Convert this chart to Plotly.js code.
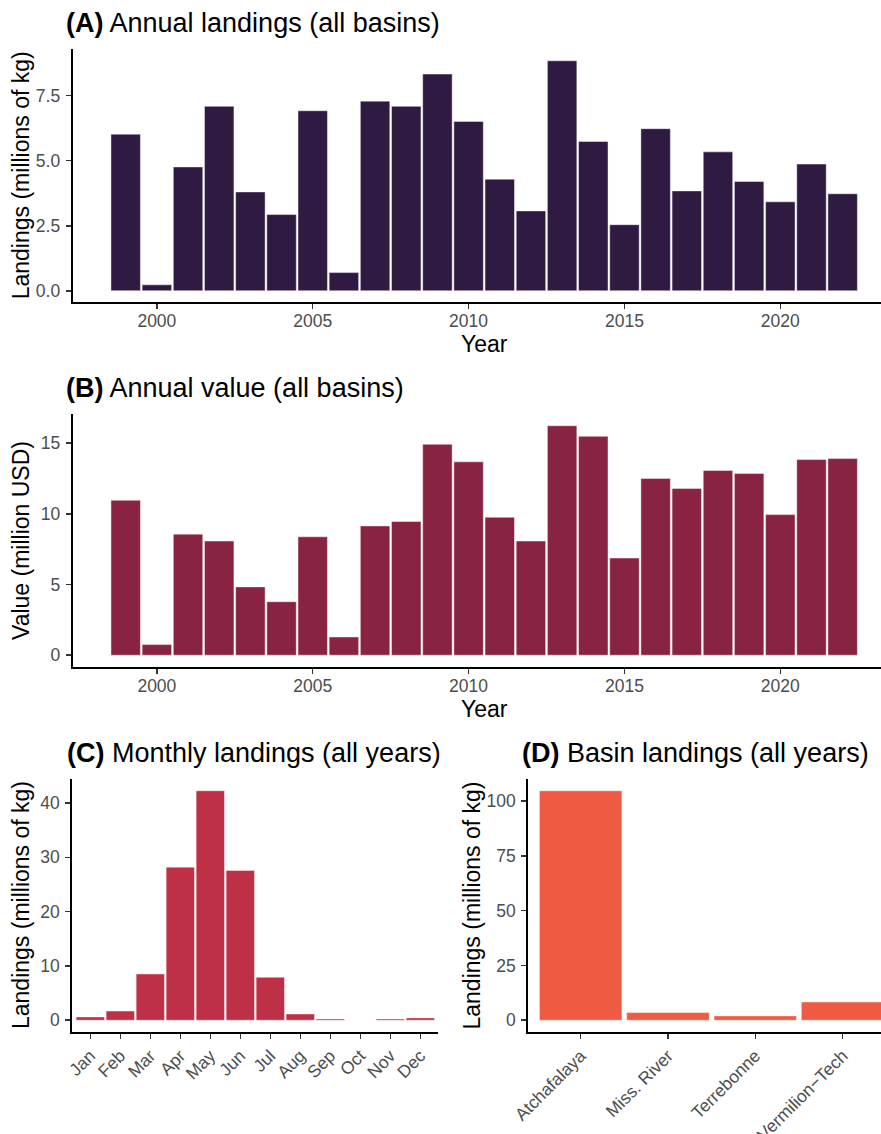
<!DOCTYPE html>
<html>
<head>
<meta charset="utf-8">
<script src="https://cdn.plot.ly/plotly-3.0.1.min.js"></script>
<style>html,body{margin:0;padding:0;background:#fff;}#chart{width:881px;height:1134px;}</style>
</head>
<body>
<div id="chart"></div>
<script>
// ---- data ----
const years = [1999,2000,2001,2002,2003,2004,2005,2006,2007,2008,2009,2010,2011,2012,2013,2014,2015,2016,2017,2018,2019,2020,2021,2022];
const annualLandings = [6.02,0.23,4.76,7.09,3.80,2.93,6.92,0.70,7.29,7.09,8.33,6.51,4.29,3.07,8.84,5.74,2.54,6.23,3.84,5.34,4.20,3.42,4.87,3.73];
const annualValue = [10.95,0.75,8.56,8.07,4.83,3.78,8.37,1.29,9.14,9.45,14.91,13.67,9.75,8.07,16.22,15.47,6.87,12.50,11.79,13.06,12.85,9.94,13.83,13.90];
const months = ["Jan","Feb","Mar","Apr","May","Jun","Jul","Aug","Sep","Oct","Nov","Dec"];
const monthlyLandings = [0.61,1.70,8.52,28.19,42.25,27.58,7.91,1.16,0.24,0,0.24,0.43];
const basins = ["Atchafalaya","Miss. River","Terrebonne","Vermilion\u2212Tech"];
const basinLandings = [104.7,3.47,1.96,8.3];

const yearTicks = [2000,2005,2010,2015,2020];

// ---- styles ----
const W = 881, H = 1134;
const FONT = "Liberation Sans, Arial, Helvetica, sans-serif";
const px = v => v / W;
const py = v => 1 - v / H;
const tickFont = {family: FONT, size: 17.5, color: "#4D4D4D"};

function axisBase(extra) {
  return Object.assign({
    showline: true, linecolor: "#000", linewidth: 2,
    ticks: "outside", ticklen: 5, tickwidth: 1.5, tickcolor: "#333333",
    showgrid: false, zeroline: false, tickfont: tickFont, fixedrange: true,
    ticklabelstandoff: 2
  }, extra);
}

const lineStyle = {color: "rgba(255,255,255,0.75)", width: 0.6};
const traces = [
  {type: "bar", x: years, y: annualLandings, xaxis: "x", yaxis: "y",
   marker: {color: "#2F1B42", line: lineStyle}, hoverinfo: "x+y"},
  {type: "bar", x: years, y: annualValue, xaxis: "x2", yaxis: "y2",
   marker: {color: "#892342", line: lineStyle}, hoverinfo: "x+y"},
  {type: "bar", x: months, y: monthlyLandings, xaxis: "x3", yaxis: "y3",
   marker: {color: "#BE3045", line: lineStyle}, hoverinfo: "x+y"},
  {type: "bar", x: basins, y: basinLandings, xaxis: "x4", yaxis: "y4",
   marker: {color: "#EE5A42", line: lineStyle}, hoverinfo: "x+y"}
];

const titleFont = {family: FONT, size: 27, color: "#000"};
const axTitleFont = {family: FONT, size: 23, color: "#000"};

function ann(text, x, y, font, opts) {
  return Object.assign({text: text, x: px(x), y: py(y), xref: "paper", yref: "paper",
    showarrow: false, font: font, xanchor: "left", yanchor: "middle"}, opts || {});
}

const layout = {
  width: W, height: H, autosize: false,
  margin: {l: 0, r: 0, t: 0, b: 0, pad: 0},
  paper_bgcolor: "#fff", plot_bgcolor: "#fff",
  showlegend: false, bargap: 0.055,
  xaxis: axisBase({domain: [px(72.7), 1], range: [1997.3, 2023.23], tickvals: yearTicks, anchor: "y", ticklabelstandoff: -3}),
  yaxis: axisBase({domain: [py(302.3), py(49.3)], range: [-0.442, 9.282], tickvals: [0, 2.5, 5, 7.5], tickformat: ".1f", anchor: "x"}),
  xaxis2: axisBase({domain: [px(72.7), 1], range: [1997.3, 2023.23], tickvals: yearTicks, anchor: "y2", ticklabelstandoff: -3}),
  yaxis2: axisBase({domain: [py(666.7), py(414.3)], range: [-0.811, 17.03], tickvals: [0, 5, 10, 15], anchor: "x2"}),
  xaxis3: axisBase({domain: [px(72.3), px(438.3)], type: "category", range: [-0.6, 11.6], tickangle: -45, anchor: "y3", ticklabelstandoff: 0}),
  yaxis3: axisBase({domain: [py(1031.7), py(779.3)], range: [-2.11, 44.36], tickvals: [0, 10, 20, 30, 40], anchor: "x3"}),
  xaxis4: axisBase({domain: [px(528.3), 1], type: "category", range: [-0.6, 3.44], tickangle: -45, anchor: "y4", ticklabelstandoff: 0}),
  yaxis4: axisBase({domain: [py(1031.7), py(779.3)], range: [-5.24, 109.94], tickvals: [0, 25, 50, 75, 100], anchor: "x4"}),
  annotations: [
    ann("<b>(A)</b> Annual landings (all basins)", 64, 23, titleFont),
    ann("<b>(B)</b> Annual value (all basins)", 64, 388, titleFont),
    ann("<b>(C)</b> Monthly landings (all years)", 65, 753, titleFont),
    ann("<b>(D)</b> Basin landings (all years)", 520, 753, titleFont),
    ann("Year", 484, 344, axTitleFont, {xanchor: "center"}),
    ann("Year", 484, 709, axTitleFont, {xanchor: "center"}),
    ann("Landings (millions of kg)", 20.5, 175.8, axTitleFont, {xanchor: "center", textangle: -90}),
    ann("Value (million USD)", 20.5, 540.5, axTitleFont, {xanchor: "center", textangle: -90}),
    ann("Landings (millions of kg)", 20.5, 905.5, axTitleFont, {xanchor: "center", textangle: -90}),
    ann("Landings (millions of kg)", 471, 905.5, axTitleFont, {xanchor: "center", textangle: -90})
  ]
};

Plotly.newPlot("chart", traces, layout, {staticPlot: true, displayModeBar: false});
</script>
</body>
</html>
